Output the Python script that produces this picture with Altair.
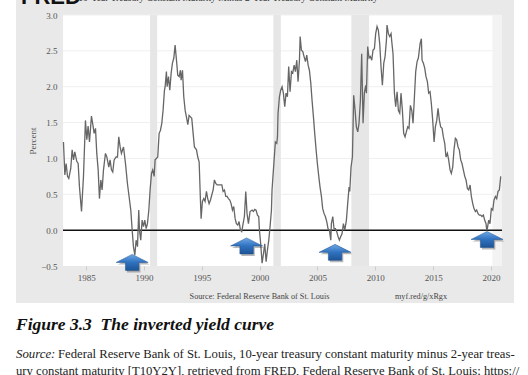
import altair as alt
import pandas as pd

# ---------------- data ----------------
years_1 = [1983.04, 1983.16, 1983.27, 1983.39, 1983.50, 1983.67, 1983.79, 1983.91, 1984.02, 1984.19,
           1984.31, 1984.42, 1984.60, 1984.77, 1984.94, 1985.06, 1985.17, 1985.29, 1985.46, 1985.58,
           1985.69, 1985.81, 1985.92, 1986.04, 1986.15, 1986.27, 1986.38, 1986.50, 1986.67, 1986.79,
           1986.96, 1987.07, 1987.19, 1987.30, 1987.42, 1987.59, 1987.71, 1987.82, 1987.94, 1988.05,
           1988.23, 1988.40, 1988.57, 1988.75, 1988.86, 1988.98, 1989.09, 1989.21, 1989.32, 1989.44,
           1989.55, 1989.61, 1989.72, 1989.84, 1989.96, 1990.07, 1990.19, 1990.30, 1990.42, 1990.53,
           1990.65, 1990.76, 1990.88]
values_1 = [1.23, 0.77, 0.93, 0.75, 0.72, 0.86, 1.12, 0.98, 1.09, 0.96,
            0.93, 0.61, 0.26, 0.75, 1.53, 1.26, 1.45, 1.23, 1.59, 1.47,
            1.35, 1.42, 1.07, 0.84, 0.44, 0.70, 0.56, 0.84, 1.07, 1.02,
            0.88, 0.98, 0.84, 0.81, 0.98, 1.02, 1.02, 1.30, 1.16, 1.07,
            1.16, 0.93, 0.65, 0.42, 0.28, 0.00, -0.23, -0.35, -0.14, -0.23,
            0.28, 0.00, -0.14, 0.14, 0.05, 0.14, 0.02, 0.09, 0.28, 0.56,
            0.79, 0.84, 0.75]

years_2 = [1990.96, 1991.19, 1991.31, 1991.42, 1991.54, 1991.65, 1991.77, 1991.83, 1991.94, 1992.00,
           1992.12, 1992.23, 1992.35, 1992.46, 1992.58, 1992.69, 1992.81, 1992.92, 1993.04, 1993.15,
           1993.21, 1993.33, 1993.44, 1993.56, 1993.67, 1993.79, 1993.90, 1994.02, 1994.13, 1994.25,
           1994.36, 1994.54, 1994.65, 1994.77, 1994.88, 1994.94, 1995.05, 1995.17, 1995.28, 1995.40,
           1995.51, 1995.63, 1995.75, 1995.86, 1995.98, 1996.09, 1996.21, 1996.32, 1996.44, 1996.61,
           1996.73, 1996.84, 1996.96, 1997.07, 1997.19, 1997.30, 1997.42, 1997.53, 1997.65, 1997.76,
           1997.88, 1997.99, 1998.11, 1998.22, 1998.34, 1998.45, 1998.57, 1998.68, 1998.80, 1998.91,
           1999.03]
values_2 = [0.98, 1.02, 1.35, 1.39, 1.49, 1.67, 1.95, 2.00, 2.21, 2.00,
            2.14, 1.95, 2.19, 2.33, 2.40, 2.58, 2.37, 2.16, 2.14, 2.23,
            2.09, 2.23, 1.86, 1.67, 1.58, 1.47, 1.60, 1.58, 1.56, 1.35,
            1.16, 1.12, 1.02, 0.95, 0.42, 0.16, 0.40, 0.44, 0.40, 0.54,
            0.44, 0.37, 0.42, 0.49, 0.56, 0.70, 0.65, 0.63, 0.63, 0.63,
            0.63, 0.54, 0.56, 0.47, 0.47, 0.44, 0.42, 0.37, 0.28, 0.33,
            0.16, 0.09, 0.07, 0.12, 0.00, -0.02, 0.09, 0.19, 0.54, 0.23,
            0.09]

years_3 = [1999.17, 1999.35, 1999.46, 1999.58, 1999.69, 1999.81, 1999.92, 1999.98, 2000.09, 2000.21,
           2000.33, 2000.44, 2000.56, 2000.67, 2000.79, 2000.90, 2001.02, 2001.07, 2001.19, 2001.31,
           2001.36, 2001.48, 2001.54, 2001.59, 2001.71, 2001.82, 2001.94, 2002.05, 2002.17, 2002.28,
           2002.40, 2002.51, 2002.63, 2002.75, 2002.86, 2002.98, 2003.09, 2003.21, 2003.32, 2003.44,
           2003.50, 2003.61, 2003.73, 2003.84, 2003.96, 2004.07, 2004.19, 2004.30, 2004.42, 2004.53,
           2004.65, 2004.76, 2004.88, 2004.99, 2005.11, 2005.22, 2005.34, 2005.45, 2005.57, 2005.68,
           2005.80, 2005.91, 2006.03, 2006.15, 2006.20, 2006.32, 2006.43, 2006.55, 2006.66, 2006.78,
           2006.89, 2007.01, 2007.12, 2007.24, 2007.36]
values_3 = [0.26, 0.28, 0.26, 0.29, 0.28, 0.21, 0.19, 0.00, -0.19, -0.46,
            -0.33, -0.19, -0.44, -0.28, -0.14, 0.05, 0.28, 0.56, 0.84, 1.12,
            1.23, 1.21, 1.30, 1.63, 1.86, 1.95, 2.00, 1.91, 1.72, 1.91,
            1.86, 2.28, 1.93, 2.21, 2.19, 2.30, 2.21, 2.37, 2.07, 2.37,
            2.70, 2.51, 2.49, 2.42, 2.35, 2.44, 2.30, 2.23, 2.05, 1.81,
            1.58, 1.35, 1.12, 0.93, 0.75, 0.60, 0.47, 0.30, 0.23, 0.19,
            0.12, 0.02, 0.00, -0.14, 0.09, 0.19, 0.02, 0.02, -0.02, -0.09,
            -0.14, -0.09, -0.05, 0.09, 0.00]

years_4 = [2007.50, 2007.61, 2007.73, 2007.79, 2007.90, 2008.02, 2008.13, 2008.25, 2008.36, 2008.48,
           2008.59, 2008.71, 2008.82, 2008.94, 2009.05, 2009.17, 2009.23, 2009.34, 2009.46, 2009.57,
           2009.69, 2009.80, 2009.92, 2010.03, 2010.15, 2010.26, 2010.38, 2010.50, 2010.61, 2010.73,
           2010.84, 2010.96, 2011.01, 2011.13, 2011.24, 2011.36, 2011.42, 2011.53, 2011.65, 2011.76,
           2011.88, 2011.99, 2012.11, 2012.22, 2012.34, 2012.45, 2012.57, 2012.68, 2012.80, 2012.91,
           2013.03, 2013.15, 2013.26, 2013.38, 2013.49, 2013.61, 2013.72]
values_4 = [0.14, 0.37, 0.60, 0.54, 0.88, 1.02, 1.88, 1.67, 1.44, 1.37,
            1.49, 1.81, 2.46, 1.49, 1.91, 2.02, 1.91, 2.56, 2.40, 2.42,
            2.37, 2.51, 2.53, 2.74, 2.84, 2.79, 2.60, 2.26, 2.02, 2.33,
            2.42, 2.65, 2.86, 2.74, 2.70, 2.74, 2.63, 2.46, 1.91, 1.72,
            1.93, 1.67, 1.63, 1.91, 1.67, 1.35, 1.30, 1.37, 1.44, 1.42,
            1.74, 1.67, 1.49, 1.86, 2.21, 2.35, 2.40]

years_5 = [2013.87, 2013.98, 2014.04, 2014.15, 2014.27, 2014.38, 2014.50, 2014.61, 2014.73, 2014.84,
           2014.96, 2015.08, 2015.19, 2015.31, 2015.42, 2015.54, 2015.65, 2015.77, 2015.88, 2016.00,
           2016.11, 2016.23, 2016.34, 2016.46, 2016.57, 2016.69, 2016.80, 2016.92, 2017.03, 2017.15,
           2017.26, 2017.38, 2017.49, 2017.61, 2017.73, 2017.84, 2017.96, 2018.07, 2018.19, 2018.30,
           2018.42, 2018.53, 2018.65, 2018.76, 2018.88, 2018.99, 2019.11, 2019.22, 2019.34, 2019.45,
           2019.57, 2019.63, 2019.68, 2019.80, 2019.91, 2020.03, 2020.15, 2020.26, 2020.38, 2020.49,
           2020.61, 2020.72, 2020.84]
values_5 = [2.60, 2.67, 2.37, 2.33, 2.26, 2.14, 2.07, 1.91, 1.93, 1.77,
            1.53, 1.23, 1.44, 1.53, 1.70, 1.53, 1.44, 1.42, 1.30, 1.21,
            1.02, 1.07, 0.98, 0.84, 0.79, 0.88, 1.12, 1.28, 1.26, 1.16,
            1.12, 0.98, 0.93, 0.84, 0.75, 0.70, 0.58, 0.56, 0.63, 0.47,
            0.37, 0.30, 0.26, 0.28, 0.23, 0.21, 0.21, 0.19, 0.21, 0.14,
            0.09, 0.00, 0.02, 0.14, 0.09, 0.30, 0.28, 0.42, 0.47, 0.44,
            0.54, 0.56, 0.75]

recession_start = [1990.53, 2001.19, 2007.93]
recession_end = [1991.14, 2001.83, 2009.46]
recent_start = [2020.12]
recent_end = [2020.95]

arrow_years = [1988.98, 1998.87, 2006.52, 2019.66]
arrow_values = [-0.45, -0.22, -0.31, -0.13]

x_ticks = [1985, 1990, 1995, 2000, 2005, 2010, 2015, 2020]
y_ticks = [-0.5, 0.0, 0.5, 1.0, 1.5, 2.0, 2.5, 3.0]
grid_values = [0.5, 1.0, 1.5, 2.0, 2.5, 3.0]
zero_line = [0.0]

chart_title = "10-Year Treasury Constant Maturity Minus 2-Year Treasury Constant Maturity"
source_left = "Source: Federal Reserve Bank of St. Louis"
source_right = "myf.red/g/xRgx"
figure_title = "Figure 3.3\u00a0\u00a0The inverted yield curve"
caption_1 = "Federal Reserve Bank of St. Louis, 10-year treasury constant maturity minus 2-year treas-"
caption_2 = "ury constant maturity [T10Y2Y], retrieved from FRED, Federal Reserve Bank of St. Louis; https://"

# ---------------- build ----------------
years = years_1 + years_2 + years_3 + years_4 + years_5
values = values_1 + values_2 + values_3 + values_4 + values_5
series = pd.DataFrame({"year": years, "value": values})

W, H = 439, 251
SERIF = "Liberation Serif"

xscale = alt.Scale(domain=[1983.0, 2020.95], nice=False, zero=False)
yscale = alt.Scale(domain=[-0.5, 3.0], nice=False, zero=False)

x_axis = alt.Axis(values=x_ticks, format="d", title=None, labelFont=SERIF, labelFontSize=9,
                  labelColor="#555555", tickColor="#cccccc", tickSize=4, domain=False, grid=False,
                  labelPadding=3, zindex=1)
y_axis = alt.Axis(values=y_ticks, format=".1f", title="Percent", titleFont=SERIF, titleFontSize=9,
                  titleFontWeight="normal", titleColor="#555555", labelFont=SERIF, labelFontSize=9,
                  labelColor="#555555", ticks=False, tickSize=0, domain=False, grid=False,
                  labelPadding=6, titlePadding=3, zindex=1)

one = pd.DataFrame({"k": [0]})

panel = alt.Chart(one).mark_rect(color="#e9e9e9").encode(
    x=alt.value(-47), x2=alt.value(451), y=alt.value(-20), y2=alt.value(288))
plot_bg = alt.Chart(one).mark_rect(color="white").encode(
    x=alt.value(0), x2=alt.value(W), y=alt.value(0), y2=alt.value(H))

grid = alt.Chart(pd.DataFrame({"g": grid_values})).mark_rule(color="#efefef", strokeWidth=1).encode(
    y=alt.Y("g:Q", scale=yscale, axis=y_axis), x=alt.value(0), x2=alt.value(W))

bands = alt.Chart(pd.DataFrame({"s": recession_start, "e": recession_end})).mark_rect(
    color="#e6e6e6").encode(x=alt.X("s:Q", scale=xscale, axis=x_axis), x2="e:Q",
                            y=alt.value(0), y2=alt.value(H))
bands_recent = alt.Chart(pd.DataFrame({"s": recent_start, "e": recent_end})).mark_rect(
    color="#f3f3f3").encode(x=alt.X("s:Q", scale=xscale, axis=x_axis), x2="e:Q",
                            y=alt.value(0), y2=alt.value(H))

zero = alt.Chart(pd.DataFrame({"z": zero_line})).mark_rule(color="#111111", strokeWidth=1.5).encode(
    y=alt.Y("z:Q", scale=yscale, axis=y_axis), x=alt.value(0), x2=alt.value(W))

line = alt.Chart(series).mark_line(color="#666666", strokeWidth=1.3).encode(
    x=alt.X("year:Q", scale=xscale, axis=x_axis),
    y=alt.Y("value:Q", scale=yscale, axis=y_axis))

ARROW = "M0,-0.5 L1,0 L0.42,0 L0.42,0.5 L-0.42,0.5 L-0.42,0 L-1,0 Z"
arrows_df = pd.DataFrame({"year": arrow_years, "value": arrow_values})
shadow = alt.Chart(arrows_df).mark_point(shape=ARROW, size=1024, filled=True, color="#333333",
                                          opacity=0.35, xOffset=1.5, yOffset=2).encode(
    x=alt.X("year:Q", scale=xscale, axis=x_axis), y=alt.Y("value:Q", scale=yscale, axis=y_axis))
arrows = alt.Chart(arrows_df).mark_point(
    shape=ARROW, size=1024, filled=True, opacity=1,
    fill=alt.LinearGradient(gradient="linear", x1=0, x2=0, y1=0, y2=1,
                            stops=[alt.GradientStop(color="#6fa8e6", offset=0),
                                   alt.GradientStop(color="#2f72c0", offset=0.5),
                                   alt.GradientStop(color="#1d5496", offset=1)]),
    stroke="#1d4f8c", strokeWidth=0.5).encode(
    x=alt.X("year:Q", scale=xscale, axis=x_axis), y=alt.Y("value:Q", scale=yscale, axis=y_axis))


def label(text, x, y, size, align="left", font=SERIF, weight="normal", style="normal",
          color="#222222", baseline="middle"):
    return alt.Chart(pd.DataFrame({"t": [text]})).mark_text(
        align=align, baseline=baseline, font=font, fontSize=size, fontWeight=weight,
        fontStyle=style, color=color).encode(x=alt.value(x), y=alt.value(y), text="t:N")


texts = [
    label("FRED", -42, -11, 22, font="Liberation Sans", weight="bold", color="#111111",
          baseline="alphabetic"),
    label(chart_title, 165, -14, 9.5, align="center", color="#333333", baseline="alphabetic"),
    label(source_left, 196.5, 282, 8.2, align="center", color="#444444"),
    label(source_right, 358, 282, 8.2, align="center", color="#444444"),
    label(figure_title, -47, 310, 17.5, weight="bold", style="italic", color="#111111"),
    label("Source:", -47, 339, 12.8, style="italic", color="#222222"),
    label(caption_1, -5, 339, 12.7, color="#222222"),
    label(caption_2, -47, 355.5, 12.7, color="#222222"),
]

chart = alt.layer(panel, plot_bg, grid, bands, bands_recent, zero, line, shadow, arrows,
                  *texts).properties(
    width=W, height=H,
    autosize=alt.AutoSizeParams(type="none"),
    padding={"left": 63, "top": 15, "right": 26, "bottom": 109},
    background="white",
).configure_view(stroke=None, fill=None)

chart.save("out.html", embed_options={"renderer": "svg", "actions": False})
